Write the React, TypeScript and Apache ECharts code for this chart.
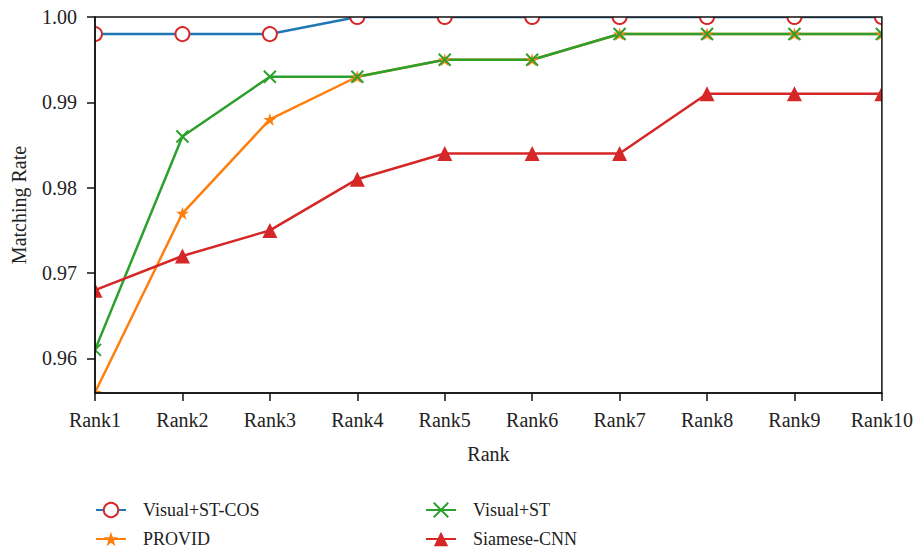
import React, { useEffect, useRef } from "react";
import * as echarts from "echarts";

const categories = ["Rank1", "Rank2", "Rank3", "Rank4", "Rank5", "Rank6", "Rank7", "Rank8", "Rank9", "Rank10"];
const visualSTCOS = [0.998, 0.998, 0.998, 1.0, 1.0, 1.0, 1.0, 1.0, 1.0, 1.0];
const provid = [0.956, 0.977, 0.988, 0.993, 0.995, 0.995, 0.998, 0.998, 0.998, 0.998];
const visualST = [0.961, 0.986, 0.993, 0.993, 0.995, 0.995, 0.998, 0.998, 0.998, 0.998];
const siameseCNN = [0.968, 0.972, 0.975, 0.981, 0.984, 0.984, 0.984, 0.991, 0.991, 0.991];
const yTicks = [0.96, 0.97, 0.98, 0.99, 1.0];

const FONT = "Liberation Serif";
const STAR = "path://M50,0 L61.8,35.4 L98.1,35.4 L68.8,57.3 L79.4,92.7 L50,70.8 L20.6,92.7 L31.2,57.3 L1.9,35.4 L38.2,35.4 Z";
const XMARK = "path://M0,0L10,10M10,0L0,10";

export default function App() {
  const ref = useRef<HTMLDivElement>(null);
  useEffect(() => {
    if (!ref.current) return;
    const chart = echarts.init(ref.current, undefined, { renderer: "svg" });
    const GL = 95, GT = 17, GR = 34, GB = 158;
    const W = 916, H = 551;
    const right = W - GR, bottom = H - GB;
    const legendText = { fontFamily: FONT, fontSize: 18, color: "#222", padding: [0, 0, 0, 12] };
    const mkLegend = (name: string, left: number, top: number) => ({
      data: [name], left, top, orient: "horizontal", padding: 0,
      itemWidth: 30, itemHeight: 18, selectedMode: false, textStyle: legendText,
    });
    const white = { fill: "#fff" };
    chart.setOption({
      animation: false,
      grid: { left: GL, top: GT, right: GR, bottom: GB, show: true, borderColor: "#111", borderWidth: 1.5, z: 10, backgroundColor: "transparent" },
      graphic: [
        { type: "rect", z: 5, silent: true, shape: { x: 0, y: 0, width: W, height: GT }, style: white },
        { type: "rect", z: 5, silent: true, shape: { x: 0, y: bottom, width: W, height: 92 }, style: white },
        { type: "rect", z: 5, silent: true, shape: { x: 0, y: 0, width: GL, height: bottom + 92 }, style: white },
        { type: "rect", z: 5, silent: true, shape: { x: right, y: 0, width: GR, height: bottom + 92 }, style: white },
      ],
      legend: [
        mkLegend("Visual+ST-COS", 95, 501),
        mkLegend("Visual+ST", 425, 501),
        mkLegend("PROVID", 95, 530),
        mkLegend("Siamese-CNN", 425, 530),
      ],
      xAxis: {
        type: "category", data: categories, boundaryGap: false, z: 10,
        name: "Rank", nameLocation: "middle", nameGap: 51,
        nameTextStyle: { fontFamily: FONT, fontSize: 20, color: "#222" },
        axisLine: { lineStyle: { color: "#111", width: 1.5 } },
        axisTick: { show: true, length: 8, inside: false, lineStyle: { color: "#111", width: 1.5 } },
        axisLabel: { fontFamily: FONT, fontSize: 20, color: "#222", margin: 17, interval: 0 },
        splitLine: { show: false },
      },
      yAxis: {
        type: "value", min: 0.95595, max: 1.0, z: 10,
        name: "Matching Rate", nameLocation: "middle", nameGap: 66,
        nameTextStyle: { fontFamily: FONT, fontSize: 20, color: "#222" },
        axisLine: { show: true, lineStyle: { color: "#111", width: 1.5 } },
        axisTick: { show: true, length: 8, inside: false, customValues: yTicks, lineStyle: { color: "#111", width: 1.5 } },
        axisLabel: { fontFamily: FONT, fontSize: 20, color: "#222", margin: 18, customValues: yTicks, formatter: (v: number) => v.toFixed(2) },
        splitLine: { show: false },
      },
      series: [
        {
          name: "Visual+ST-COS", type: "line", data: visualSTCOS, symbol: "circle", symbolSize: 14,
          lineStyle: { color: "#1f77b4", width: 2.5 },
          itemStyle: { color: "#fff", borderColor: "#d62728", borderWidth: 2 },
          emphasis: { disabled: true }, clip: true, z: 2,
        },
        {
          name: "PROVID", type: "line", data: provid, symbol: STAR, symbolSize: 13,
          lineStyle: { color: "#ff7f0e", width: 2.5 },
          itemStyle: { color: "#ff7f0e", borderWidth: 0 },
          emphasis: { disabled: true }, clip: true, z: 2,
        },
        {
          name: "Visual+ST", type: "line", data: visualST, symbol: XMARK, symbolSize: 12,
          lineStyle: { color: "#2ca02c", width: 2.5 },
          itemStyle: { color: "#2ca02c", borderColor: "#2ca02c", borderWidth: 2 },
          emphasis: { disabled: true }, clip: true, z: 2,
        },
        {
          name: "Siamese-CNN", type: "line", data: siameseCNN, symbol: "triangle", symbolSize: 15,
          lineStyle: { color: "#d62728", width: 2.5 },
          itemStyle: { color: "#d62728", borderWidth: 0 },
          emphasis: { disabled: true }, clip: true, z: 2,
        },
      ],
    });
    return () => chart.dispose();
  }, []);
  return <div ref={ref} style={{ position: "fixed", left: 0, top: 0, width: 916, height: 551, background: "#fff" }} />;
}
